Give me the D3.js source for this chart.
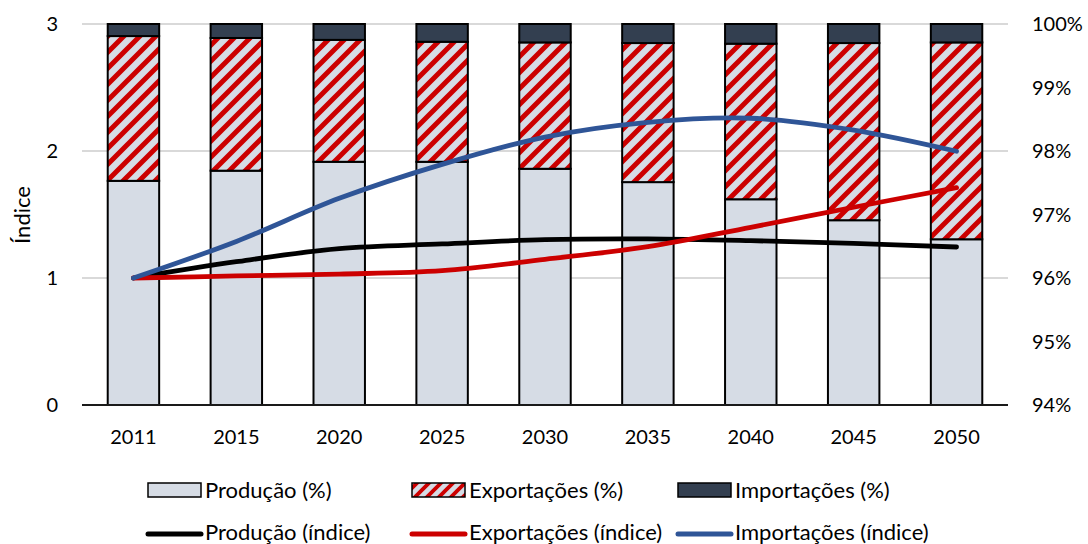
<!DOCTYPE html>
<html>
<head>
<meta charset="utf-8">
<script src="https://cdn.jsdelivr.net/npm/d3@7"></script>
<style>
  html, body { margin: 0; padding: 0; background: #fff; }
  svg { display: block; font-family: Lato, "Open Sans", sans-serif; }
</style>
</head>
<body>
<svg id="chart" width="1088" height="544"></svg>
<script>
// ---- data ----
const years = ["2011", "2015", "2020", "2025", "2030", "2035", "2040", "2045", "2050"];
const producaoPct = [97.53, 97.69, 97.83, 97.83, 97.72, 97.51, 97.24, 96.91, 96.61];
const exportacoesPct = [2.28, 2.09, 1.92, 1.89, 1.99, 2.19, 2.45, 2.79, 3.10];
const importacoesPct = [0.19, 0.22, 0.25, 0.28, 0.29, 0.30, 0.31, 0.30, 0.29];
const producaoIdx = [1.00, 1.128, 1.231, 1.268, 1.302, 1.308, 1.294, 1.272, 1.244];
const exportacoesIdx = [1.00, 1.016, 1.031, 1.058, 1.147, 1.247, 1.399, 1.557, 1.711];
const importacoesIdx = [1.00, 1.288, 1.627, 1.895, 2.11, 2.226, 2.258, 2.165, 1.998];
const leftTicks = [0, 1, 2, 3];
const rightTicks = [94, 95, 96, 97, 98, 99, 100];
const barLegend = ["Produção (%)", "Exportações (%)", "Importações (%)"];
const lineLegend = ["Produção (índice)", "Exportações (índice)", "Importações (índice)"];

// ---- layout ----
const svg = d3.select("#chart");
const plot = { left: 82, right: 1008, top: 24, bottom: 405 };
const colors = { prod: "#D6DCE5", expRed: "#CC0000", imp: "#333F50", grid: "#D9D9D9" };
const lineColors = ["#000000", "#CC0000", "#2F5597"];

const x = d3.scaleBand().domain(years).range([plot.left, plot.right]).paddingInner(0.5).paddingOuter(0.25);
const yL = d3.scaleLinear().domain([0, 3]).range([plot.bottom, plot.top]);
const yR = d3.scaleLinear().domain([94, 100]).range([plot.bottom, plot.top]).clamp(true);

// pattern
const defs = svg.append("defs");
const pat = defs.append("pattern").attr("id", "hatch").attr("patternUnits", "userSpaceOnUse")
  .attr("width", 16).attr("height", 16);
pat.append("rect").attr("width", 16).attr("height", 16).attr("fill", colors.prod);
pat.append("path").attr("d", "M-4,4 L4,-4 M0,16 L16,0 M12,20 L20,12")
  .attr("stroke", colors.expRed).attr("stroke-width", 5).attr("fill", "none");
const patL = defs.append("pattern").attr("id", "hatchL").attr("patternUnits", "userSpaceOnUse")
  .attr("width", 12).attr("height", 12);
patL.append("rect").attr("width", 12).attr("height", 12).attr("fill", colors.prod);
patL.append("path").attr("d", "M-3,3 L3,-3 M0,12 L12,0 M9,15 L15,9")
  .attr("stroke", colors.expRed).attr("stroke-width", 3.8).attr("fill", "none");

// gridlines
svg.append("g").selectAll("line").data(leftTicks.filter(d => d > 0)).join("line")
  .attr("x1", plot.left).attr("x2", plot.right)
  .attr("y1", d => yL(d)).attr("y2", d => yL(d))
  .attr("stroke", colors.grid).attr("stroke-width", 2);

// stacked bars
const stackData = years.map((y, i) => ({
  year: y,
  segs: [
    { y0: 0, y1: producaoPct[i], fill: colors.prod },
    { y0: producaoPct[i], y1: producaoPct[i] + exportacoesPct[i], fill: "url(#hatch)" },
    { y0: producaoPct[i] + exportacoesPct[i], y1: producaoPct[i] + exportacoesPct[i] + importacoesPct[i], fill: colors.imp }
  ]
}));
const barG = svg.append("g");
stackData.forEach(d => {
  barG.selectAll(null).data(d.segs).join("rect")
    .attr("x", x(d.year))
    .attr("width", x.bandwidth())
    .attr("y", s => yR(s.y1))
    .attr("height", s => yR(s.y0) - yR(s.y1))
    .attr("fill", s => s.fill)
    .attr("stroke", "#000").attr("stroke-width", 2);
});

// baseline
svg.append("line").attr("x1", plot.left).attr("x2", plot.right)
  .attr("y1", plot.bottom).attr("y2", plot.bottom)
  .attr("stroke", "#1a1a1a").attr("stroke-width", 2);

// lines
const lineGen = d3.line()
  .x((d, i) => x(years[i]) + x.bandwidth() / 2)
  .y(d => yL(d))
  .curve(d3.curveCatmullRom.alpha(0.5));
[producaoIdx, exportacoesIdx, importacoesIdx].forEach((series, k) => {
  svg.append("path").datum(series).attr("d", lineGen)
    .attr("fill", "none").attr("stroke", lineColors[k])
    .attr("stroke-width", 4.8).attr("stroke-linecap", "round").attr("stroke-linejoin", "round");
});

// left axis labels
svg.append("g").selectAll("text").data(leftTicks).join("text")
  .attr("x", 58).attr("y", d => yL(d)).attr("dy", "0.35em")
  .attr("text-anchor", "end").attr("font-size", 20).attr("fill", "#000")
  .text(d => d);

// right axis labels
svg.append("g").selectAll("text").data(rightTicks).join("text")
  .attr("x", 1032).attr("y", d => yR(d)).attr("dy", "0.35em")
  .attr("text-anchor", "start").attr("font-size", 20).attr("fill", "#000")
  .text(d => d + "%");

// x labels
svg.append("g").selectAll("text").data(years).join("text")
  .attr("x", d => x(d) + x.bandwidth() / 2).attr("y", 437).attr("dy", "0.35em")
  .attr("text-anchor", "middle").attr("font-size", 20).attr("fill", "#000")
  .text(d => d);

// y axis title
svg.append("text").attr("transform", "translate(22,215) rotate(-90)")
  .attr("text-anchor", "middle").attr("dy", "0.35em")
  .attr("font-size", 22).attr("fill", "#000").text("Índice");

// legend
const legX = [148, 412, 678];
const leg = svg.append("g");
const barFills = [colors.prod, "url(#hatchL)", colors.imp];
barLegend.forEach((t, i) => {
  leg.append("rect").attr("x", legX[i]).attr("y", 483).attr("width", 53).attr("height", 14)
    .attr("fill", barFills[i]).attr("stroke", "#000").attr("stroke-width", 1.5);
  leg.append("text").attr("x", legX[i] + 57).attr("y", 490).attr("dy", "0.35em")
    .attr("font-size", 22).attr("fill", "#000").text(t);
});
lineLegend.forEach((t, i) => {
  leg.append("line").attr("x1", legX[i]).attr("x2", legX[i] + 53)
    .attr("y1", 534).attr("y2", 534)
    .attr("stroke", lineColors[i]).attr("stroke-width", 5).attr("stroke-linecap", "round");
  leg.append("text").attr("x", legX[i] + 57).attr("y", 532).attr("dy", "0.35em")
    .attr("font-size", 22).attr("fill", "#000").text(t);
});
</script>
</body>
</html>
